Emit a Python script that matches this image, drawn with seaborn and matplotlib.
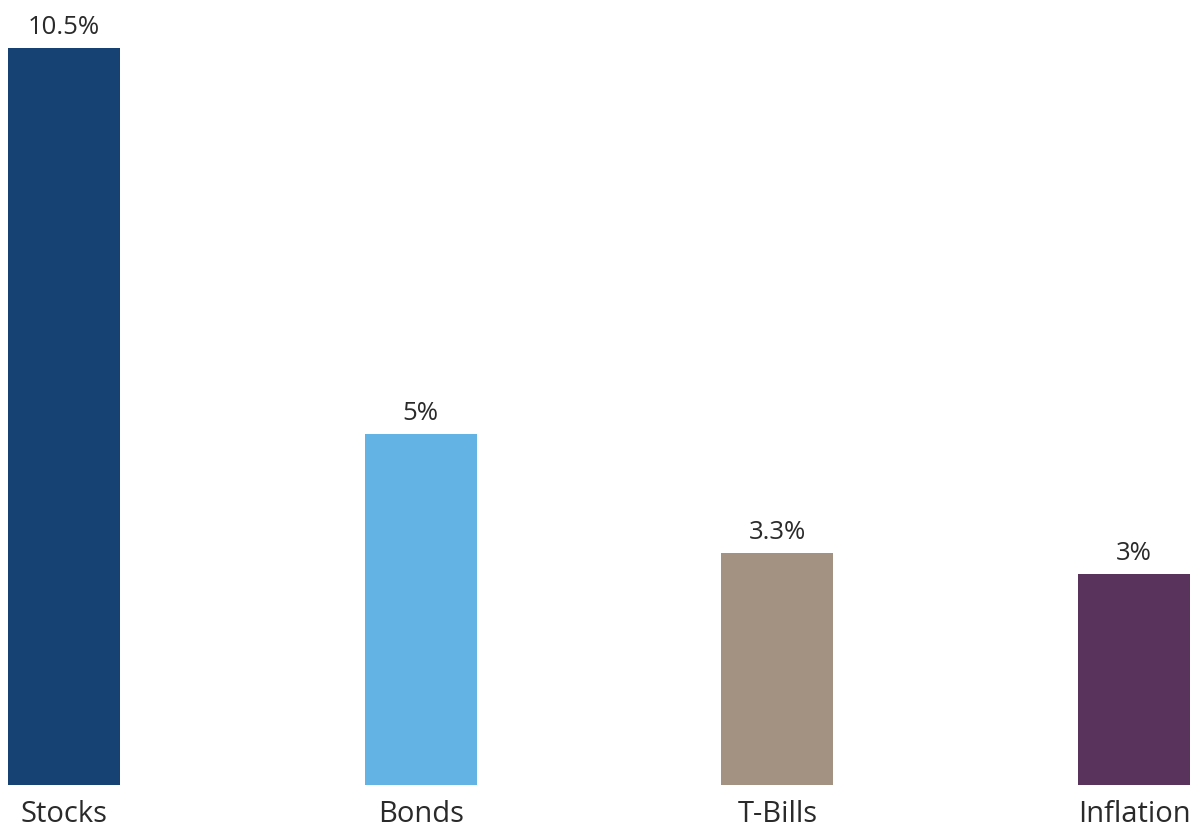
import matplotlib
matplotlib.use("Agg")
import matplotlib.pyplot as plt
import seaborn as sns
import pandas as pd

categories = ["Stocks", "Bonds", "T-Bills", "Inflation"]
values = [10.5, 5.0, 3.3, 3.0]
value_labels = ["10.5%", "5%", "3.3%", "3%"]
colors = ["#154273", "#63b4e4", "#a39282", "#5a335c"]

sns.set_theme(style="white")
plt.rcParams["font.family"] = ["Open Sans", "DejaVu Sans"]

df = pd.DataFrame({"cat": categories, "val": values})

fig = plt.figure(figsize=(11.94, 8.34), dpi=100)
ax = fig.add_axes([8 / 1194, (834 - 785) / 834, (1190 - 8) / 1194, (785 - 48) / 834])
sns.barplot(data=df, x="cat", y="val", hue="cat", palette=colors, legend=False,
            width=0.314, ax=ax, saturation=1, linewidth=0)

half = 0.314 / 2
ax.set_xlim(-half, 3 + half)
ax.set_ylim(0, 10.5)
for i, (v, lab) in enumerate(zip(values, value_labels)):
    ax.annotate(lab, (i, v), xytext=(0, 6), textcoords="offset points",
                ha="center", va="bottom", fontsize=18.5, color="#2a2a2a")

ax.set_xlabel("")
ax.set_ylabel("")
ax.set_yticks([])
ax.tick_params(axis="x", length=0, pad=11, labelsize=21, labelcolor="#2a2a2a")
for s in ax.spines.values():
    s.set_visible(False)

fig.savefig("out.png", dpi=100)
